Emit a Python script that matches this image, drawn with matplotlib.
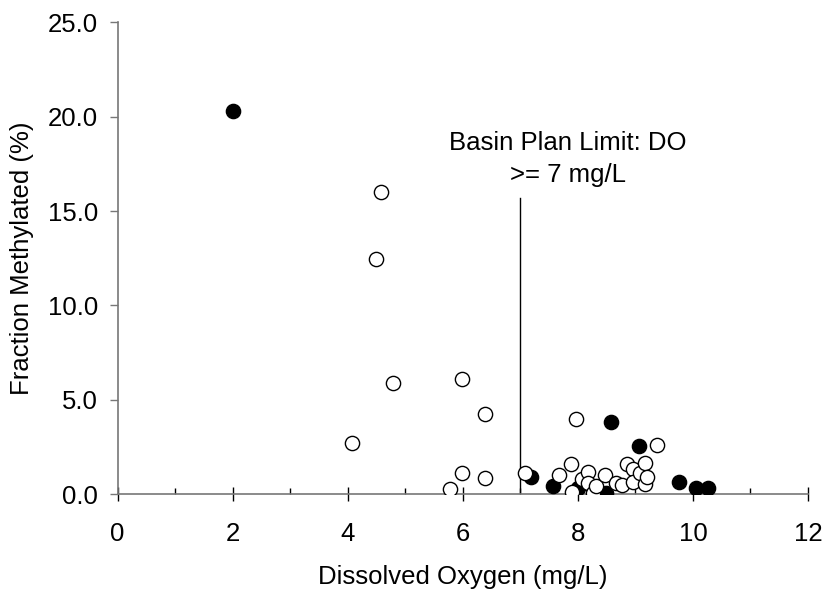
import matplotlib
matplotlib.use("Agg")
import matplotlib.pyplot as plt
from matplotlib.ticker import MultipleLocator, FormatStrFormatter

plt.rcParams.update({
    'font.family': ['Liberation Sans', 'DejaVu Sans'],
    'font.size': 18.5,
})

# open circles
open_do = [4.58, 4.49, 4.79, 5.98, 6.38, 4.08, 5.98, 6.38, 5.78,
           7.97, 9.37, 7.08, 7.67, 7.88, 7.89, 8.08, 8.17, 8.18, 8.27,
           8.32, 8.47, 8.66, 8.76, 8.86, 8.96, 8.96, 9.08, 9.16, 9.16, 9.20]
open_fm = [16.0, 12.45, 5.9, 6.09, 4.27, 2.72, 1.13, 0.86, 0.30,
           4.0, 2.63, 1.13, 1.04, 1.62, 0.10, 0.83, 1.15, 0.57, 0.04,
           0.42, 1.04, 0.60, 0.46, 1.59, 1.31, 0.65, 1.13, 1.66, 0.53, 0.92]

# filled circles
filled_do = [2.0, 8.57, 9.07, 7.18, 7.57, 8.0, 8.49, 9.76, 10.06, 10.27]
filled_fm = [20.3, 3.85, 2.54, 0.90, 0.42, 0.35, 0.07, 0.65, 0.35, 0.35]

do_limit = 7
limit_top = 15.7

fig = plt.figure(figsize=(8.22, 5.89), dpi=100)
ax = fig.add_axes([0.143, 0.161, 0.840, 0.801])

ax.plot([do_limit, do_limit], [0, limit_top], color="black", linewidth=1, zorder=1)
ax.scatter(filled_do, filled_fm, s=105, facecolor="black", edgecolor="black", linewidth=1, zorder=3)
ax.scatter(open_do, open_fm, s=105, facecolor="white", edgecolor="black", linewidth=1, zorder=3)

ax.text(7.83, 17.75, "Basin Plan Limit: DO\n>= 7 mg/L", ha="center", va="center",
        linespacing=1.42)

ax.set_xlim(0, 12)
ax.set_ylim(0, 25)
ax.xaxis.set_major_locator(MultipleLocator(2))
ax.xaxis.set_minor_locator(MultipleLocator(1))
ax.yaxis.set_major_locator(MultipleLocator(5))
ax.yaxis.set_major_formatter(FormatStrFormatter("%.1f"))

for s in ["top", "right"]:
    ax.spines[s].set_visible(False)
for s in ["left", "bottom"]:
    ax.spines[s].set_color("#777777")
    ax.spines[s].set_linewidth(1.2)

ax.tick_params(axis="x", which="major", direction="inout", length=9.5, width=1, pad=15, color="black")
ax.tick_params(axis="x", which="minor", direction="in", length=4, width=1, color="black")
ax.tick_params(axis="y", which="major", direction="out", length=6, width=1, pad=8, color="#777777")

ax.set_xlabel("Dissolved Oxygen (mg/L)", labelpad=14)
ax.set_ylabel("Fraction Methylated (%)", labelpad=10)

fig.savefig("out.png", dpi=100)
